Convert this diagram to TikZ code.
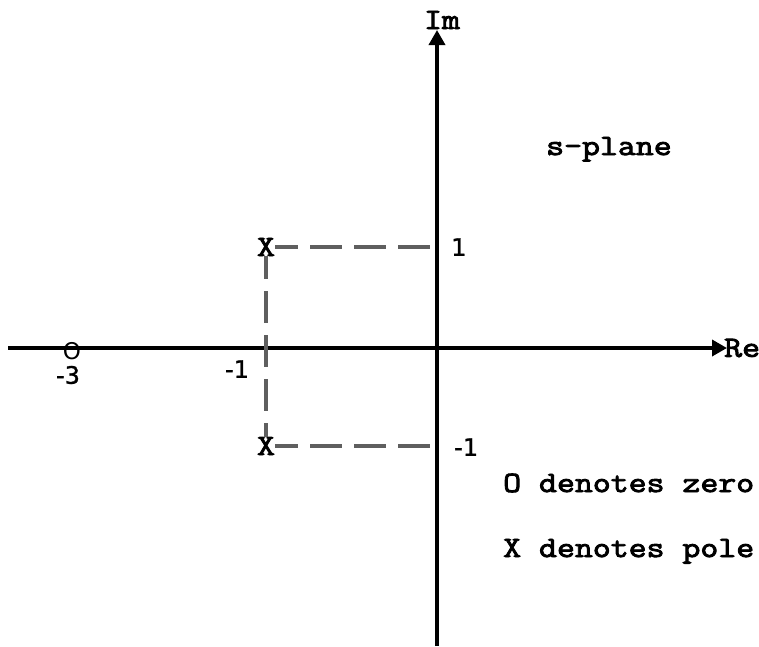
\documentclass[tikz,border=0pt]{standalone}
\usepackage{fontspec}
\newfontfamily\cour{Latin Modern Mono}[FakeStretch=1.18,AutoFakeBold=3]
\newfontfamily\numfont{DejaVu Sans}[FakeBold=1.2]
\newfontfamily\ofont{DejaVu Sans}
\usetikzlibrary{arrows.meta}
\definecolor{dashgray}{RGB}{95,95,95}
\begin{document}
\begin{tikzpicture}[x=1pt,y=-1pt,
  axis/.style={line width=3.5pt,-{Triangle[length=15pt,width=16pt]}},
  guide/.style={draw=dashgray,line width=3.5pt,dash pattern=on 32pt off 12pt},
  lbl/.style={font=\fontsize{29.5}{32}\selectfont\cour\bfseries,inner sep=0pt},
  num/.style={font=\fontsize{24}{28}\selectfont\numfont,inner sep=0pt},
  omark/.style={font=\fontsize{23}{28}\selectfont\ofont,inner sep=0pt},
  xmark/.style={lbl,fill=white}]
\useasboundingbox (0,0) rectangle (759,646);
\coordinate (reL) at (8,348);
\coordinate (reR) at (727,348);
\coordinate (imB) at (437,646);
\coordinate (imT) at (437,30);
\coordinate (p1) at (266,247);
\coordinate (p2) at (266,446);
\coordinate (q1) at (437,247);
\coordinate (q2) at (437,446);
\draw[axis] (reL) -- (reR);
\draw[axis] (imB) -- (imT);
\draw[guide] (p1) -- (q1);
\draw[guide] (p1) -- (p2);
\draw[guide] (p2) -- (q2);
\node[xmark] (x1) at (p1) {X};
\node[xmark] (x2) at (p2) {X};
\node[omark] (zero) at (72,351) {O};
\node[num] (m3) at (68,375) {-3};
\node[num] (m1x) at (237,369) {-1};
\node[num,anchor=west] (one) at (451,247) {1};
\node[num,anchor=west] (m1y) at (454,447) {-1};
\node[lbl,anchor=west] (re) at (724,348) {Re};
\node[lbl] (im) at (442,20) {Im};
\node[lbl,anchor=base west] (sp) at (546,155) {s-plane};
\node[lbl,anchor=base west] (dz) at (503,492) {O denotes zero};
\node[lbl,anchor=base west] (dp) at (503,557) {X denotes pole};
\end{tikzpicture}
\end{document}
